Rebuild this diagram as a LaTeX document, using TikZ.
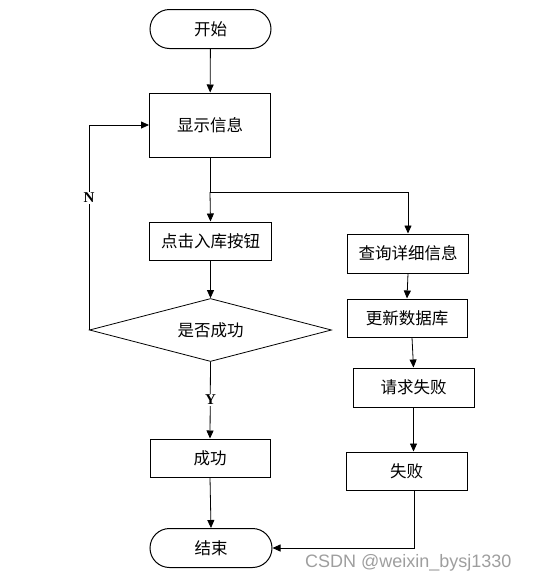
\documentclass[tikz,border=0pt]{standalone}
\usepackage{fontspec}
\setmainfont{Liberation Serif}
\newfontfamily\cjk{Noto Sans CJK SC}
\newfontfamily\wmfont{Liberation Sans}
\usetikzlibrary{shapes.geometric,arrows.meta}
\tikzset{
  box/.style={draw, line width=1pt, rectangle, inner sep=0pt, font=\cjk\fontsize{16.5}{19}\selectfont},
  term/.style={box, rounded corners=19.5pt},
  decide/.style={draw, line width=0.8pt, diamond, inner sep=0pt, aspect=3.84, minimum width=242pt, minimum height=63pt, font=\cjk\fontsize{16.5}{19}\selectfont},
  conn/.style={line width=0.8pt},
  arr/.style={conn, -{Triangle[length=8pt,width=7pt]}},
  lbl/.style={font=\bfseries\fontsize{15}{17}\selectfont, fill=white, inner sep=1.5pt},
  wm/.style={font=\wmfont\fontsize{18}{20}\selectfont, text=black!38, anchor=base west, inner sep=0pt}
}
\begin{document}
\begin{tikzpicture}[x=1pt, y=-1pt]
\useasboundingbox (0,0) rectangle (536,582);
\node[term, minimum width=121pt, minimum height=39pt] (start) at (210.5,29) {开始};
\node[box, minimum width=121pt, minimum height=64pt] (show) at (210,125) {显示信息};
\node[box, minimum width=122pt, minimum height=38pt] (click) at (210.5,241) {点击入库按钮};
\node[decide] (ok) at (210.5,330) {是否成功};
\node[box, minimum width=120pt, minimum height=38pt] (succ) at (210,458) {成功};
\node[term, minimum width=122pt, minimum height=39pt] (end) at (211,548) {结束};
\node[box, minimum width=121pt, minimum height=39pt] (query) at (408,253.5) {查询详细信息};
\node[box, minimum width=120pt, minimum height=38pt] (upd) at (407,318) {更新数据库};
\node[box, minimum width=121pt, minimum height=39pt] (req) at (413.5,387.5) {请求失败};
\node[box, minimum width=121pt, minimum height=38pt] (fail) at (406.5,471) {失败};
\coordinate (split) at (210,192);
\draw[arr] (start) -- (show);
\draw[conn] (show.south) -- (split);
\draw[arr] (split) -- (click.north);
\draw[arr] (split) -| (query.north);
\draw[arr] (click) -- (ok.north);
\draw[arr] (ok.west) |- (show.west);
\node[lbl] (nlab) at (89,198) {N};
\draw[arr] (ok.south) -- (succ.north);
\node[lbl] (ylab) at (210.5,400) {Y};
\draw[arr] (succ.south) -- (end.north);
\draw[arr] (query.south) -- (upd.north);
\draw[arr] ([xshift=5pt]upd.south) -- (req.north);
\draw[arr] (req.south) -- ([xshift=7pt]fail.north);
\draw[arr] ([xshift=7.5pt]fail.south) |- (end.east);
\node[wm] (mark) at (305,567) {CSDN @weixin\_bysj1330};
\end{tikzpicture}
\end{document}
